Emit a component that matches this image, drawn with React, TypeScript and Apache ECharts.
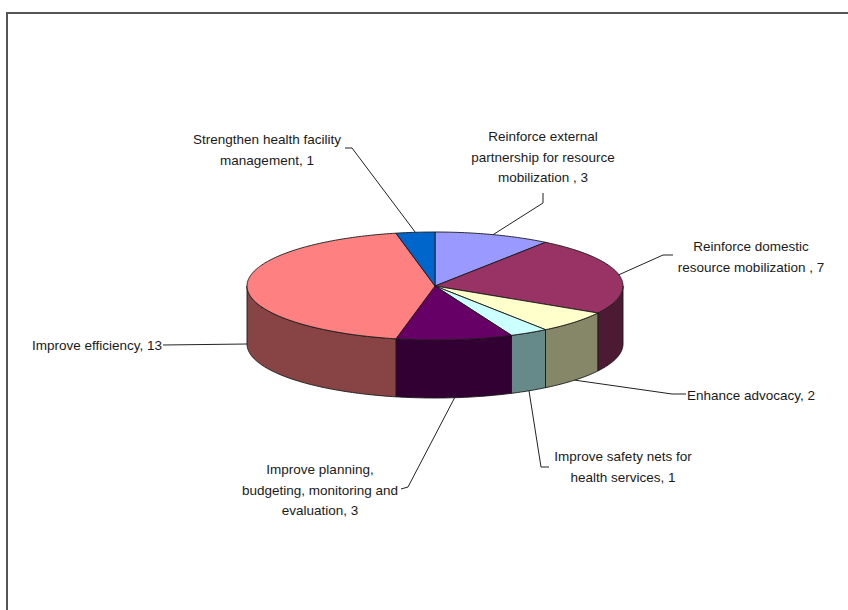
import React, { useEffect, useRef } from "react";
import * as echarts from "echarts";

// ---- data ----
const categories = [
  "Reinforce external\npartnership for resource\nmobilization ",
  "Reinforce domestic\nresource mobilization ",
  "Enhance advocacy",
  "Improve safety nets for\nhealth services",
  "Improve planning,\nbudgeting, monitoring and\nevaluation",
  "Improve efficiency",
  "Strengthen health facility\nmanagement",
];
const values = [3, 7, 2, 1, 3, 13, 1];
const topColors = ["#9999FF", "#993366", "#FFFFCC", "#CCFFFF", "#660066", "#FF8080", "#0066CC"];
const sideColors = ["#4D4D80", "#4D1A33", "#868668", "#668A8A", "#330033", "#884444", "#003366"];

// ---- layout (label placement, not data) ----
const labelLayout = [
  { x: 543, y: 157, align: "center", leader: [[543, 193], [543, 203]] },
  { x: 751, y: 257, align: "center", leader: [[673, 255], [663, 255]] },
  { x: 687, y: 395, align: "left", leader: [[686, 394], [672, 394]] },
  { x: 623, y: 467, align: "center", leader: [[549, 467], [541, 467]] },
  { x: 320, y: 490, align: "center", leader: [[401, 489], [408, 487]] },
  { x: 162, y: 345, align: "right", leader: [[163, 345]] },
  { x: 267, y: 150, align: "center", leader: [[345, 148], [352, 148]] },
];

const CX = 435;
const CY = 286;
const RX = 188;
const RY = 54;
const DEPTH = 58;
const FONT = '13.5px "Liberation Sans", Arial, sans-serif';

const total = values.reduce((a, b) => a + b, 0);
function range(i: number): [number, number] {
  let before = 0;
  for (let k = 0; k < i; k++) before += values[k];
  return [(before / total) * 360, ((before + values[i]) / total) * 360];
}
function pt(deg: number, dy = 0): number[] {
  const r = (deg * Math.PI) / 180;
  return [CX + RX * Math.sin(r), CY - RY * Math.cos(r) + dy];
}
function arc(a0: number, a1: number, dy = 0): number[][] {
  const n = Math.max(2, Math.ceil(Math.abs(a1 - a0)));
  const out: number[][] = [];
  for (let k = 0; k <= n; k++) out.push(pt(a0 + ((a1 - a0) * k) / n, dy));
  return out;
}

export default function App() {
  const ref = useRef<HTMLDivElement>(null);
  useEffect(() => {
    if (!ref.current) return;
    const chart = echarts.init(ref.current, undefined, { renderer: "svg" });
    chart.setOption({
      animation: false,
      backgroundColor: "#ffffff",
      graphic: [
        {
          type: "rect",
          shape: { x: 7, y: 13, width: 1000, height: 1000 },
          style: { fill: "none", stroke: "#555555", lineWidth: 2 },
          silent: true,
        },
      ],
      series: [
        {
          type: "custom",
          coordinateSystem: "none",
          z: 1,
          silent: true,
          data: values,
          renderItem: (params: any) => {
            const i = params.dataIndex;
            const [a0, a1] = range(i);
            const s = Math.max(a0, 90);
            const e = Math.min(a1, 270);
            if (e <= s) return null;
            const pts = arc(s, e).concat(arc(e, s, DEPTH));
            return {
              type: "polygon",
              shape: { points: pts },
              style: { fill: sideColors[i], stroke: "#1a1a1a", lineWidth: 0.9 },
            };
          },
        },
        {
          type: "custom",
          coordinateSystem: "none",
          z: 2,
          silent: true,
          data: values,
          renderItem: (params: any) => {
            const i = params.dataIndex;
            const [a0, a1] = range(i);
            const pts = [[CX, CY]].concat(arc(a0, a1));
            return {
              type: "polygon",
              shape: { points: pts },
              style: { fill: topColors[i], stroke: "#1a1a1a", lineWidth: 0.9 },
            };
          },
        },
        {
          type: "custom",
          coordinateSystem: "none",
          z: 3,
          silent: true,
          data: values,
          renderItem: (params: any) => {
            const i = params.dataIndex;
            const [a0, a1] = range(i);
            const mid = (a0 + a1) / 2;
            const front = mid >= 90 && mid <= 270;
            const anchor = pt(mid, front ? DEPTH : 0);
            const L = labelLayout[i];
            const text = categories[i] + ", " + values[i];
            return {
              type: "group",
              children: [
                {
                  type: "polyline",
                  shape: { points: (L.leader as number[][]).concat([anchor]) },
                  style: { stroke: "#222222", lineWidth: 1, fill: "none" },
                },
                {
                  type: "text",
                  x: L.x,
                  y: L.y,
                  style: {
                    text,
                    font: FONT,
                    fill: "#1a1a1a",
                    align: L.align,
                    verticalAlign: "middle",
                    textAlign: L.align,
                    textVerticalAlign: "middle",
                    lineHeight: 20.5,
                  },
                },
              ],
            };
          },
        },
      ],
    });
    return () => chart.dispose();
  }, []);
  return (
    <div
      ref={ref}
      style={{ position: "absolute", left: 0, top: 0, width: 848, height: 610, background: "#fff" }}
    />
  );
}
